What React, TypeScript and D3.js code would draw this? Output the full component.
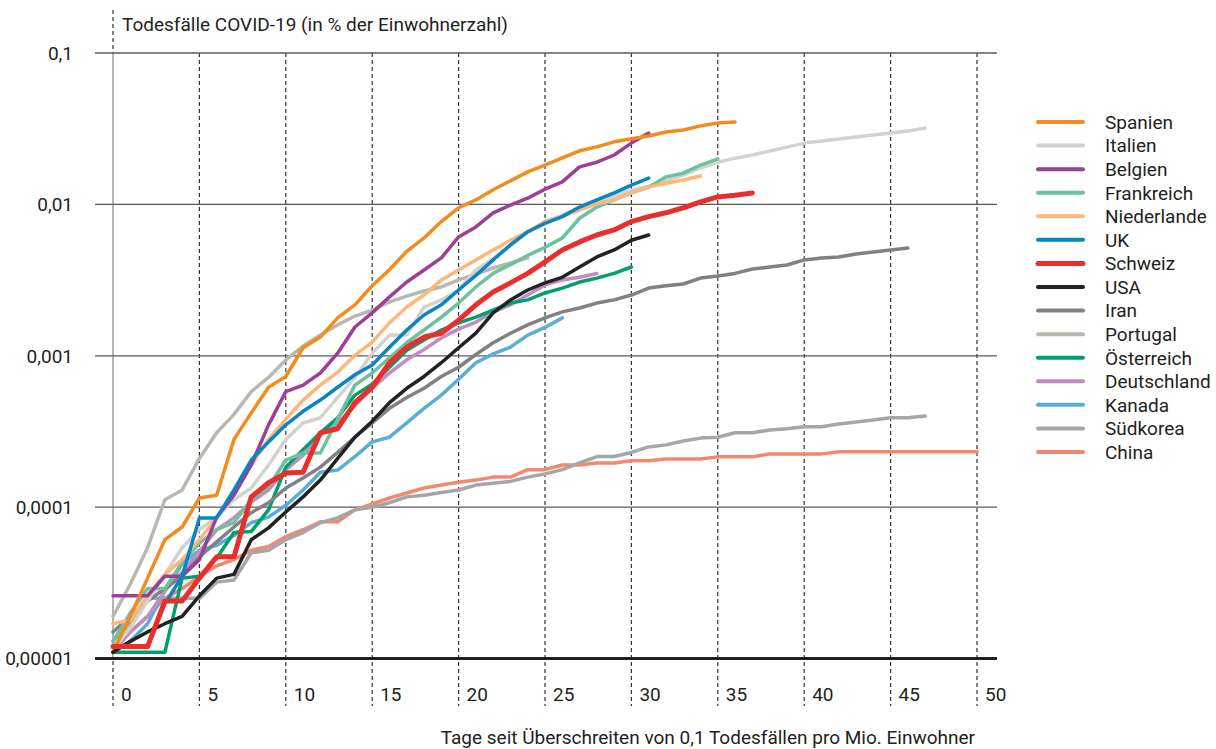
import { useEffect, useRef } from "react";
import * as d3 from "d3";

// Todesfälle pro Mio. Einwohner, Tag 0 = Überschreiten von 0,1 pro Mio.
const spanien = [0.11, 0.19, 0.34, 0.61, 0.74, 1.15, 1.2, 2.8, 4.2, 6.2, 7.3, 11.3, 13.3, 17.8, 21.7, 29, 37, 49, 60, 77, 95, 107, 125, 143, 164, 182, 203, 226, 240, 259, 271, 283, 301, 310, 330, 345, 350];
const italien = [0.114, 0.16, 0.24, 0.36, 0.54, 0.71, 0.86, 1.12, 1.34, 1.9, 2.8, 3.6, 3.9, 5.3, 7.2, 10.4, 13.7, 13.7, 21, 23.4, 27.2, 36.9, 44, 53, 65, 77, 85, 95, 104, 114, 124, 132, 145, 156, 174, 190, 202, 212, 225, 239, 254, 262, 270, 279, 287, 296, 305, 319];
const belgien = [0.26, 0.26, 0.26, 0.35, 0.35, 0.45, 0.86, 1.2, 1.9, 3.5, 5.8, 6.4, 7.7, 10.4, 15.5, 19.2, 24.5, 30.7, 36.9, 44.3, 61, 71, 88, 99, 110, 126, 141, 177, 190, 212, 254, 296];
const frankreich = [0.13, 0.2, 0.29, 0.29, 0.43, 0.58, 0.71, 0.79, 1.12, 1.36, 2.05, 2.28, 2.28, 3.8, 6.4, 7.7, 9.7, 12.2, 14.8, 18, 22.3, 28.5, 35, 40, 46, 52, 60, 81, 96, 107, 119, 130, 152, 161, 182, 200];
const niederlande = [0.17, 0.18, 0.26, 0.36, 0.45, 0.61, 0.85, 1.24, 1.9, 2.8, 3.8, 5.1, 6.4, 7.8, 10.1, 12.3, 16.5, 21, 25.2, 31.7, 36.9, 43, 50, 58, 66, 77, 83, 92, 101, 107, 119, 130, 138, 145, 154];
const uk = [0.12, 0.12, 0.12, 0.23, 0.35, 0.85, 0.85, 1.3, 2.05, 2.7, 3.5, 4.3, 5.1, 6.2, 7.5, 8.7, 11.4, 14.8, 18.6, 21.7, 27.2, 34, 43, 54, 66, 75, 83, 96, 107, 119, 134, 149];
const schweiz = [0.12, 0.12, 0.12, 0.24, 0.24, 0.34, 0.47, 0.47, 1.17, 1.45, 1.68, 1.7, 3.1, 3.3, 4.9, 6.2, 9.0, 11.4, 13.3, 14.1, 17.2, 21.7, 26.4, 30.3, 35, 41.7, 50, 56.5, 62.8, 67.8, 77, 83, 88, 95, 104, 112, 115, 119];
const usa = [0.11, 0.13, 0.15, 0.17, 0.19, 0.26, 0.34, 0.36, 0.61, 0.73, 0.93, 1.17, 1.51, 2.1, 2.9, 3.7, 4.9, 6.1, 7.3, 9.0, 11.3, 14.1, 19.2, 23.4, 27.2, 30.3, 33, 38.6, 45, 50, 58, 62.8];
const iran = [0.15, 0.19, 0.24, 0.29, 0.35, 0.47, 0.59, 0.74, 0.92, 1.07, 1.34, 1.56, 1.84, 2.3, 2.9, 3.6, 4.5, 5.3, 6.1, 7.3, 8.4, 10.2, 12.2, 14.1, 16, 17.8, 19.5, 20.7, 22.3, 23.4, 25.2, 28, 29, 29.8, 32.6, 33.7, 35, 37.4, 38.6, 39.8, 43, 44.3, 45, 47, 48.5, 50, 51.5];
const portugal = [0.19, 0.31, 0.54, 1.12, 1.3, 2.1, 3.1, 4.1, 5.8, 7.2, 9.4, 11.6, 13.7, 16, 18.3, 20, 22.7, 24.8, 26.8, 28.5, 31.7, 34.7, 38, 41, 44.3];
const oesterreich = [0.11, 0.11, 0.11, 0.11, 0.34, 0.35, 0.46, 0.68, 0.69, 0.96, 1.84, 2.4, 3.1, 3.9, 5.5, 6.5, 8.4, 10.9, 12.7, 14.8, 16.5, 18, 20, 22.3, 23.4, 26, 28, 30.7, 32.6, 35, 38.6];
const deutschland = [0.11, 0.15, 0.19, 0.28, 0.37, 0.51, 0.71, 0.85, 1.08, 1.3, 1.77, 2.2, 3.0, 3.6, 4.7, 6.1, 7.7, 9.4, 11, 13.1, 15, 16.7, 19.5, 21.7, 25.2, 29.4, 31.7, 33, 35];
const kanada = [0.11, 0.13, 0.17, 0.28, 0.42, 0.52, 0.56, 0.65, 0.79, 0.86, 1.03, 1.3, 1.7, 1.76, 2.16, 2.7, 2.9, 3.6, 4.5, 5.5, 7.0, 9.0, 10.3, 11.4, 13.7, 15.4, 17.8];
const suedkorea = [0.13, 0.17, 0.25, 0.25, 0.25, 0.25, 0.32, 0.33, 0.5, 0.52, 0.61, 0.68, 0.79, 0.85, 0.96, 1.0, 1.07, 1.17, 1.2, 1.25, 1.3, 1.4, 1.44, 1.48, 1.58, 1.66, 1.77, 1.96, 2.16, 2.16, 2.3, 2.5, 2.58, 2.74, 2.86, 2.9, 3.1, 3.1, 3.24, 3.3, 3.4, 3.4, 3.54, 3.65, 3.77, 3.9, 3.9, 4.0];
const china = [0.12, 0.15, 0.19, 0.25, 0.29, 0.35, 0.41, 0.45, 0.52, 0.55, 0.64, 0.71, 0.8, 0.8, 0.96, 1.05, 1.15, 1.24, 1.34, 1.4, 1.46, 1.51, 1.58, 1.58, 1.77, 1.77, 1.9, 1.9, 1.96, 1.96, 2.03, 2.03, 2.08, 2.08, 2.08, 2.15, 2.15, 2.15, 2.25, 2.25, 2.25, 2.25, 2.32, 2.32, 2.32, 2.32, 2.32, 2.32, 2.32, 2.32, 2.32];

const countries = ["Spanien", "Italien", "Belgien", "Frankreich", "Niederlande", "UK", "Schweiz", "USA", "Iran", "Portugal", "Österreich", "Deutschland", "Kanada", "Südkorea", "China"];
const seriesValues = [spanien, italien, belgien, frankreich, niederlande, uk, schweiz, usa, iran, portugal, oesterreich, deutschland, kanada, suedkorea, china];
const colors = ["#f28c1e", "#d3d2cc", "#9b3f98", "#6cc29f", "#fdb77a", "#0a85c2", "#ea2e2e", "#222222", "#808184", "#b9b8b0", "#009f6b", "#c08cc4", "#5aaed6", "#a6a6a9", "#f2896e"];
// drawing order (last on top)
const drawOrder = ["China", "Südkorea", "Kanada", "Deutschland", "Österreich", "Portugal", "Iran", "Italien", "Frankreich", "Niederlande", "Belgien", "UK", "Spanien", "USA", "Schweiz"];

const yTicks = [0.00001, 0.0001, 0.001, 0.01, 0.1];
const yTickLabels = ["0,00001", "0,0001", "0,001", "0,01", "0,1"];
const xTicks = [0, 5, 10, 15, 20, 25, 30, 35, 40, 45, 50];

const title = "Todesfälle COVID-19 (in % der Einwohnerzahl)";
const xTitle = "Tage seit Überschreiten von 0,1 Todesfällen pro Mio. Einwohner";

const FONT = "Roboto, 'Noto Sans', sans-serif";

export default function App() {
  const svgRef = useRef<SVGSVGElement>(null);
  const width = 1216;
  const height = 749;

  useEffect(() => {
    if (!svgRef.current) return;
    const svg = d3.select(svgRef.current);
    svg.selectAll("*").remove();

    const x = d3.scaleLinear().domain([0, 50]).range([113, 977]);
    const y = d3.scaleLog().domain([0.00001, 0.1]).range([658.6, 53]);
    const gridLeft = 95;
    const gridRight = 997;

    svg.append("rect").attr("width", width).attr("height", height).attr("fill", "#ffffff");

    // vertical dashed lines
    xTicks.forEach((d) => {
      svg
        .append("line")
        .attr("x1", x(d))
        .attr("x2", x(d))
        .attr("y1", d === 0 ? 10 : y(0.1))
        .attr("y2", 706)
        .attr("stroke", "#333")
        .attr("stroke-width", 1.2)
        .attr("stroke-dasharray", "4,3");
    });
    // solid gray axis at day 0
    svg
      .append("line")
      .attr("x1", x(0))
      .attr("x2", x(0))
      .attr("y1", y(0.1))
      .attr("y2", y(0.00001))
      .attr("stroke", "#b5b5b5")
      .attr("stroke-width", 2);

    // horizontal grid
    yTicks.forEach((t, i) => {
      const bottom = i === 0;
      svg
        .append("line")
        .attr("x1", gridLeft)
        .attr("x2", gridRight)
        .attr("y1", y(t))
        .attr("y2", y(t))
        .attr("stroke", bottom ? "#231f20" : "#5a5a5a")
        .attr("stroke-width", bottom ? 3 : 1.3);
      svg
        .append("text")
        .attr("x", 73)
        .attr("y", y(t))
        .attr("dy", "0.36em")
        .attr("text-anchor", "end")
        .style("font-family", FONT)
        .style("font-size", "19px")
        .style("fill", "#231f20")
        .text(yTickLabels[i]);
    });

    xTicks.forEach((d) => {
      svg
        .append("text")
        .attr("x", x(d) + 8)
        .attr("y", 701)
        .style("font-family", FONT)
        .style("font-size", "19px")
        .style("fill", "#231f20")
        .text(String(d));
    });

    const line = d3
      .line<number>()
      .x((_, i) => x(i))
      .y((v) => y(v / 10000));

    drawOrder.forEach((name) => {
      const i = countries.indexOf(name);
      svg
        .append("path")
        .datum(seriesValues[i])
        .attr("fill", "none")
        .attr("stroke", colors[i])
        .attr("stroke-width", name === "Schweiz" ? 5 : 3.5)
        .attr("stroke-linejoin", "round")
        .attr("stroke-linecap", "round")
        .attr("d", line);
    });

    // legend
    const legend = svg.append("g").attr("transform", "translate(1038,122)");
    countries.forEach((name, i) => {
      const row = legend.append("g").attr("transform", `translate(0,${i * 23.57})`);
      row
        .append("line")
        .attr("x1", 0)
        .attr("x2", 45)
        .attr("stroke", colors[i])
        .attr("stroke-width", name === "Schweiz" ? 5 : 4)
        .attr("stroke-linecap", "round");
      row
        .append("text")
        .attr("x", 67)
        .attr("dy", "0.36em")
        .style("font-family", FONT)
        .style("font-size", "19px")
        .style("fill", "#231f20")
        .text(name);
    });

    svg
      .append("text")
      .attr("x", 122)
      .attr("y", 31)
      .style("font-family", FONT)
      .style("font-size", "19px")
      .style("fill", "#231f20")
      .text(title);

    svg
      .append("text")
      .attr("x", 975)
      .attr("y", 744)
      .attr("text-anchor", "end")
      .style("font-family", FONT)
      .style("font-size", "19px")
      .style("fill", "#231f20")
      .text(xTitle);
  }, []);

  return (
    <svg
      ref={svgRef}
      width={width}
      height={height}
      style={{ position: "absolute", left: 0, top: 0, display: "block" }}
    />
  );
}
